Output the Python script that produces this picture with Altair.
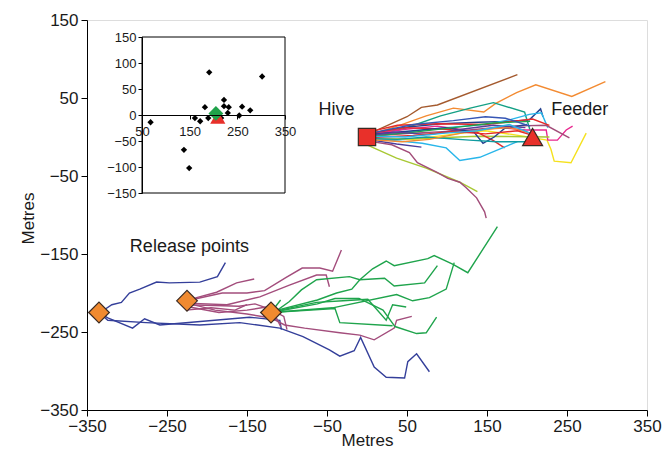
import altair as alt
import pandas as pd

FONT = "Liberation Sans"

# ---------------- main chart data (metres) ----------------
X_TICKS = [-350, -250, -150, -50, 50, 150, 250, 350]
Y_TICKS = [-350, -250, -150, -50, 50, 150]

# hive -> feeder tracks: (colour, x values, y values)
HIVE_TRACKS = [
    ("#a45a2e", [0, 50, 68, 88, 188], [3, 26, 38, 41, 80]),
    ("#f38b32", [0, 38, 74, 108, 146, 161, 187, 211, 256, 298], [2, 14, 27, 37, 32, 43, 57, 67, 52, 71]),
    ("#14a085", [0, 44, 92, 129, 158, 197, 204], [1, 10, 27, 37, 44, 32, 8]),
    ("#23408e", [0, 44, 93, 139, 176, 203, 217, 220], [3, 12, 17, 19, 20, 22, 36, 26]),
    ("#29b6ea", [0, 49, 99, 148, 178, 203, 218, 226], [0, 6, 12, 16, 22, 29, 31, 12]),
    ("#f5e11e", [0, 58, 118, 148, 183, 225, 230, 234, 255, 274], [-2, -3, 5, 8, 3, -4, -16, -31, -33, 5]),
    ("#e8288f", [0, 48, 88, 128, 168, 198, 224, 226, 238, 244, 249, 257], [3, 10, 14, 8, 12, 9, 9, -4, -4, 3, 9, 14]),
    ("#a24c79", [0, 58, 118, 178, 224, 253], [1, 5, 8, 14, 15, -1]),
    ("#a8c833", [0, 68, 138, 228], [-3, -2, 1, 0]),
    ("#e52a2a", [0, 48, 98, 138, 157, 172], [4, 12, 10, 6, -4, -14]),
    ("#e52a2a", [0, 38, 88, 148, 207, 228], [6, 15, 17, 16, 23, 15]),
    ("#23408e", [0, 58, 98, 118, 134, 145, 159, 172, 200], [3, 8, 12, 9, 6, -8, 0, 11, 16]),
    ("#29b6ea", [0, 38, 69, 99, 116, 141, 188], [-2, -5, -8, -14, -30, -26, -6]),
    ("#0f9ba0", [0, 38, 74, 128, 162, 204], [-2, -3, 0, -4, -6, -6]),
    ("#4a3c9c", [0, 37, 68], [-3, -9, -13]),
    ("#a8c833", [0, 37, 74, 116, 138], [-10, -27, -40, -58, -70]),
    ("#a24c79", [0, 31, 53, 63, 87, 101, 116, 124, 137, 147, 149], [-5, -10, -20, -33, -45, -53, -58, -65, -78, -96, -104]),
    ("#f38b32", [0, 44, 78, 118, 148, 178, 204], [-3, -6, -3, 5, 10, 12, 5]),
    ("#1fa24a", [0, 48, 108, 158, 204], [1, 5, 12, 18, 20]),
    ("#3656b5", [0, 58, 108, 148, 173, 204], [4, 16, 21, 26, 24, 14]),
    ("#5a3f99", [0, 38, 78, 118, 158, 198], [2, 6, 3, 10, 15, 12]),
    ("#e52a2a", [0, 58, 108, 148, 188, 204], [-1, 2, 7, 4, 8, 3]),
    ("#29b6ea", [0, 48, 98, 138, 178, 204], [1, 0, 5, 8, 16, 5]),
]

BLUE = "#343f9a"
MAUVE = "#a34d7c"
GREEN = "#1fa44c"

RELEASE1_TRACKS = [
    (BLUE, [-335, -332, -319, -307, -297, -284, -263, -247, -209, -187, -177],
           [-225, -224, -215, -212, -200, -195, -186, -187, -186, -179, -161]),
    (BLUE, [-335, -324, -293, -278, -259, -147, -109, -107],
           [-225, -232, -245, -233, -241, -231, -235, -247]),
    (BLUE, [-335, -324, -276, -209, -159, -109, -80, -47, -34, -16, -8, 9, 24, 47, 51, 62, 78],
           [-225, -235, -238, -241, -238, -245, -256, -273, -281, -274, -257, -295, -308, -309, -288, -278, -301]),
]

RELEASE2_TRACKS = [
    (MAUVE, [-225, -213, -188, -163, -141], [-210, -206, -199, -187, -182]),
    (MAUVE, [-225, -181, -150, -128, -101, -81, -59, -43, -32], [-210, -200, -200, -197, -180, -168, -168, -172, -145]),
    (MAUVE, [-225, -175, -134, -97, -63, -51, -47], [-213, -215, -205, -190, -177, -177, -192]),
    (MAUVE, [-225, -190, -150, -120, -103, -78, -34, -9, 9, 34, 37, 56],
            [-213, -222, -227, -232, -241, -245, -251, -254, -260, -245, -235, -230]),
    (MAUVE, [-228, -190, -160, -140, -118, -108], [-215, -216, -217, -214, -222, -243]),
    (MAUVE, [-222, -185, -150, -126, -104, -100], [-218, -225, -222, -218, -230, -247]),
    (MAUVE, [-226, -195, -165, -150], [-222, -219, -222, -215]),
]

RELEASE3_TRACKS = [
    (GREEN, [-120, -112, -62, -38, -19, -9, 7, 24, 34, 76, 84, 107, 126, 163],
            [-225, -222, -209, -200, -195, -183, -169, -159, -165, -156, -152, -163, -174, -115]),
    (GREEN, [-120, -112, -97, -82, -63, -22, -9, 22, 34, 72, 88],
            [-225, -222, -211, -196, -183, -179, -183, -181, -191, -187, -165]),
    (GREEN, [-120, -100, -63, -30, 1, 24, 32, 49], [-225, -220, -212, -210, -208, -235, -215, -218]),
    (GREEN, [-120, -43, 37, 57, 78, 99, 109], [-225, -219, -202, -210, -206, -195, -161]),
    (GREEN, [-120, -40, -34, 32], [-225, -220, -238, -242]),
    (GREEN, [-120, -62, -40, -10, 20, 35, 62, 74, 87], [-225, -214, -207, -207, -222, -243, -252, -251, -231]),
    (GREEN, [-120, -108], [-225, -209]),
]

# markers
MARK_X = [0, 207, -335, -225, -120]
MARK_Y = [0, 0, -225, -210, -225]
MARK_SHAPE = ["square", "triangle-up", "diamond", "diamond", "diamond"]
MARK_SIZE = [300, 400, 430, 430, 430]
MARK_FILL = ["#e8302a", "#e8302a", "#f08a30", "#f08a30", "#f08a30"]

# annotations
LABEL_TEXT = ["Hive", "Feeder", "Release points"]
LABEL_X = [-38, 266, -222]
LABEL_Y = [35, 35, -141]

# ---------------- inset data ----------------
INSET_X_TICKS = [50, 150, 250, 350]
INSET_Y_TICKS = [-150, -100, -50, 0, 50, 100, 150]
INSET_PX = [68, 191, 302, 182, 222, 222, 232, 230, 260, 277, 254, 161, 172, 189, 216, 138, 149]
INSET_PY = [-14, 82, 74, 15, 29, 17, 15, 4, 16, 9, -1, -6, -12, -6, -6, -67, -102]
INSET_FEEDER = (209, -4)
INSET_MEAN = (205, 3)

# ---------------- build tables ----------------
rows = []
for gname, tracks in [("h", HIVE_TRACKS), ("r1", RELEASE1_TRACKS), ("r2", RELEASE2_TRACKS), ("r3", RELEASE3_TRACKS)]:
    for ti, (col, xs, ys) in enumerate(tracks):
        for k, (xv, yv) in enumerate(zip(xs, ys)):
            rows.append({"track": f"{gname}{ti}", "col": col, "x": xv, "y": yv, "i": k})
lines_df = pd.DataFrame(rows)
marks_df = pd.DataFrame({"x": MARK_X, "y": MARK_Y, "shape": MARK_SHAPE, "size": MARK_SIZE, "fill": MARK_FILL})
labels_df = pd.DataFrame({"x": LABEL_X, "y": LABEL_Y, "text": LABEL_TEXT})

inset_pts = pd.DataFrame({"x": INSET_PX, "y": INSET_PY})
inset_feeder = pd.DataFrame({"x": [INSET_FEEDER[0]], "y": [INSET_FEEDER[1]]})
inset_mean = pd.DataFrame({"x": [INSET_MEAN[0]], "y": [INSET_MEAN[1]]})
inset_box = pd.DataFrame({"x0": [50], "x1": [350], "y0": [-150], "y1": [150]})

# ---------------- encodings ----------------
main_axis_common = dict(grid=False, domainColor="black", tickColor="black", tickSize=6,
                        labelFontSize=17, labelColor="#1a1a1a", labelFont=FONT,
                        titleFont=FONT, titleFontSize=17, titleFontWeight="normal",
                        titleColor="#1a1a1a", labelFlush=False, labelOverlap=False, format="d")


def mx(field="x"):
    return alt.X(f"{field}:Q", scale=alt.Scale(domain=[-350, 350], nice=False, zero=False),
                 axis=alt.Axis(values=X_TICKS, title="Metres", labelPadding=2,
                               titleY=35, titleBaseline="alphabetic", **main_axis_common))


def my(field="y"):
    return alt.Y(f"{field}:Q", scale=alt.Scale(domain=[-350, 150], nice=False, zero=False),
                 axis=alt.Axis(values=Y_TICKS, title="Metres", labelPadding=3,
                               titleX=-59, titleY=198, titleAlign="center", titleBaseline="middle",
                               titleAngle=270, **main_axis_common))


inset_axis_common = dict(grid=False, domainColor="black", tickColor="black", tickSize=4,
                         labelFontSize=13, labelColor="#1a1a1a", labelFont=FONT,
                         labelFlush=False, labelOverlap=False, format="d", title=None, zindex=1)


def ix(field="x"):
    return alt.X(f"{field}:Q", scale=alt.Scale(domain=[50, 350], range=[55, 198], nice=False, zero=False),
                 axis=alt.Axis(values=INSET_X_TICKS, orient="bottom", offset=-295, labelPadding=6,
                               **inset_axis_common))


def iy(field="y"):
    return alt.Y(f"{field}:Q", scale=alt.Scale(domain=[-150, 150], range=[173, 17], nice=False, zero=False),
                 axis=alt.Axis(values=INSET_Y_TICKS, orient="left", offset=-55, labelPadding=2,
                               **inset_axis_common))


# ---------------- main layers ----------------
lines = alt.Chart(lines_df).mark_line(strokeWidth=1.4).encode(
    x=mx(), y=my(), detail="track:N", color=alt.Color("col:N", scale=None), order="i:Q")

markers = alt.Chart(marks_df).mark_point(filled=True, stroke="#3a2a22", strokeWidth=1.2, opacity=1).encode(
    x=mx(), y=my(),
    shape=alt.Shape("shape:N", scale=None),
    size=alt.Size("size:Q", scale=None),
    color=alt.Color("fill:N", scale=None))

labels = alt.Chart(labels_df).mark_text(font=FONT, fontSize=18, color="#1a1a1a",
                                        align="center", baseline="middle").encode(
    x=mx(), y=my(), text="text:N")

main = alt.layer(lines, markers, labels)

# ---------------- inset layers ----------------
box = alt.Chart(inset_box).mark_rect(fill="white", stroke="black", strokeWidth=1).encode(
    x=ix("x0"), x2="x1", y=iy("y0"), y2="y1")
pts = alt.Chart(inset_pts).mark_point(shape="diamond", filled=True, color="black", size=40, opacity=1).encode(
    x=ix(), y=iy())
feeder = alt.Chart(inset_feeder).mark_point(shape="triangle-up", filled=True, color="#e8302a",
                                            size=230, opacity=1).encode(x=ix(), y=iy())
meanpt = alt.Chart(inset_mean).mark_point(shape="diamond", filled=True, color="#1fa24a",
                                          size=220, opacity=1).encode(x=ix(), y=iy())

inset = alt.layer(box, pts, feeder, meanpt)

chart = alt.layer(main, inset).resolve_scale(x="independent", y="independent").properties(
    width=560, height=390,
    autosize=alt.AutoSizeParams(type="none"),
    padding={"left": 79, "top": 12, "right": 16, "bottom": 42},
).configure_view(stroke="black", strokeWidth=1).configure(font=FONT)

chart.save("out.html", embed_options={"renderer": "svg", "actions": False})
